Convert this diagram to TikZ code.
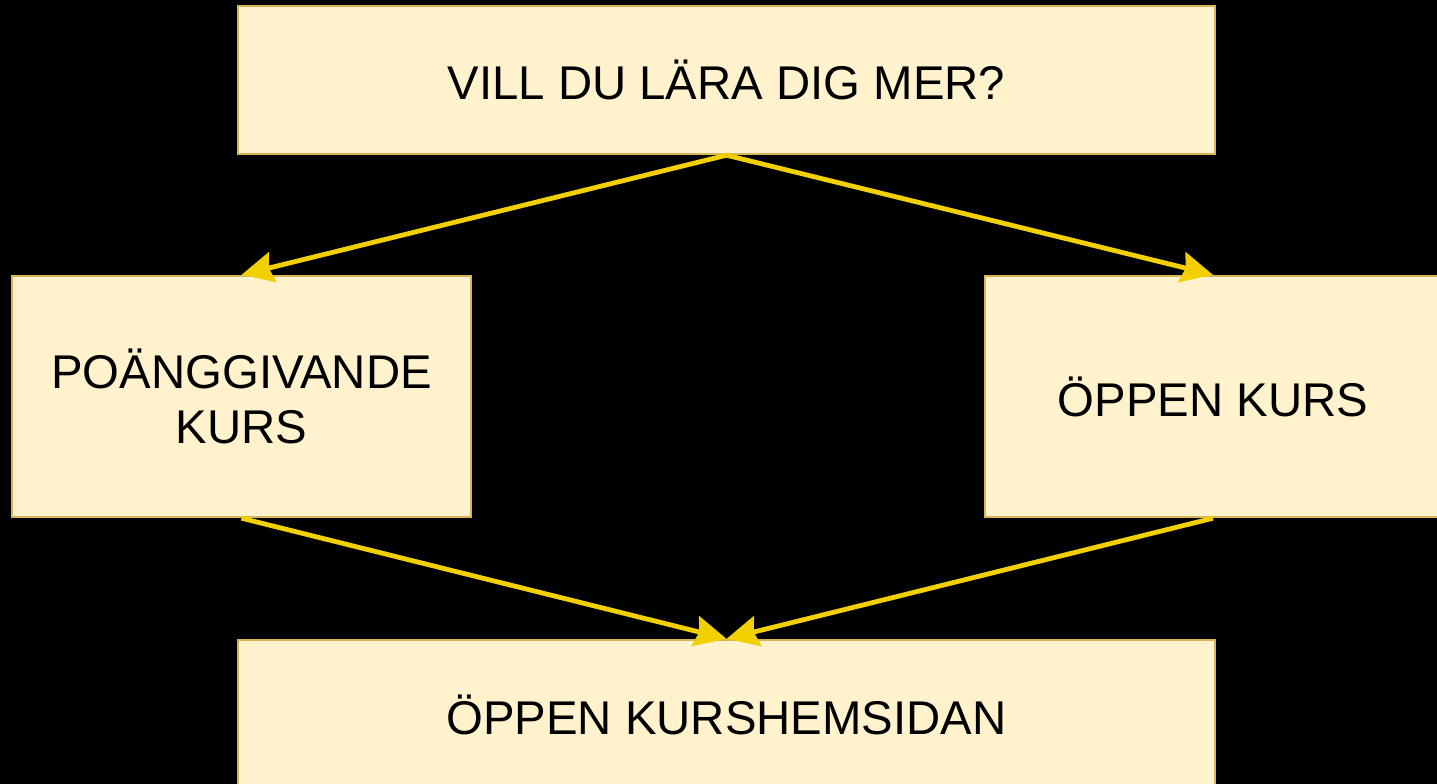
\documentclass[tikz,border=0pt]{standalone}
\usepackage{fontspec}
\setmainfont{Liberation Sans}
\usetikzlibrary{arrows.meta}
\definecolor{boxfill}{HTML}{FFF2CC}
\definecolor{boxline}{HTML}{D6B656}
\definecolor{arrowc}{HTML}{F2D000}
\begin{document}
\begin{tikzpicture}[x=0.75pt,y=-0.75pt,
  box/.style={draw=boxline,fill=boxfill,line width=1.8pt,inner sep=0pt,
    font=\fontsize{35.5pt}{41.5pt}\selectfont,align=center,text=black},
  conn/.style={draw=arrowc,line width=3.6pt,
    -{Stealth[length=24pt,width=23pt,inset=3pt]}}]
\fill[black] (0,0) rectangle (1437,784);
\useasboundingbox (0,0) rectangle (1437,784);
\clip (0,0) rectangle (1437,784);
\node[box,minimum width=977*0.75pt,minimum height=148*0.75pt] (top) at (726.5,80) {VILL DU LÄRA DIG MER?};
\node[box,minimum width=459*0.75pt,minimum height=241*0.75pt] (left) at (241.5,396.5) {POÄNGGIVANDE\\KURS};
\node[box,minimum width=456*0.75pt,minimum height=241*0.75pt] (right) at (1213,396.5) {ÖPPEN KURS};
\node[box,minimum width=977*0.75pt,minimum height=150*0.75pt] (bottom) at (726.5,715) {ÖPPEN KURSHEMSIDAN};
\draw[conn] (top.south) -- (left.north);
\draw[conn] (top.south) -- (right.north);
\draw[conn] (left.south) -- (bottom.north);
\draw[conn] (right.south) -- (bottom.north);
\end{tikzpicture}
\end{document}
